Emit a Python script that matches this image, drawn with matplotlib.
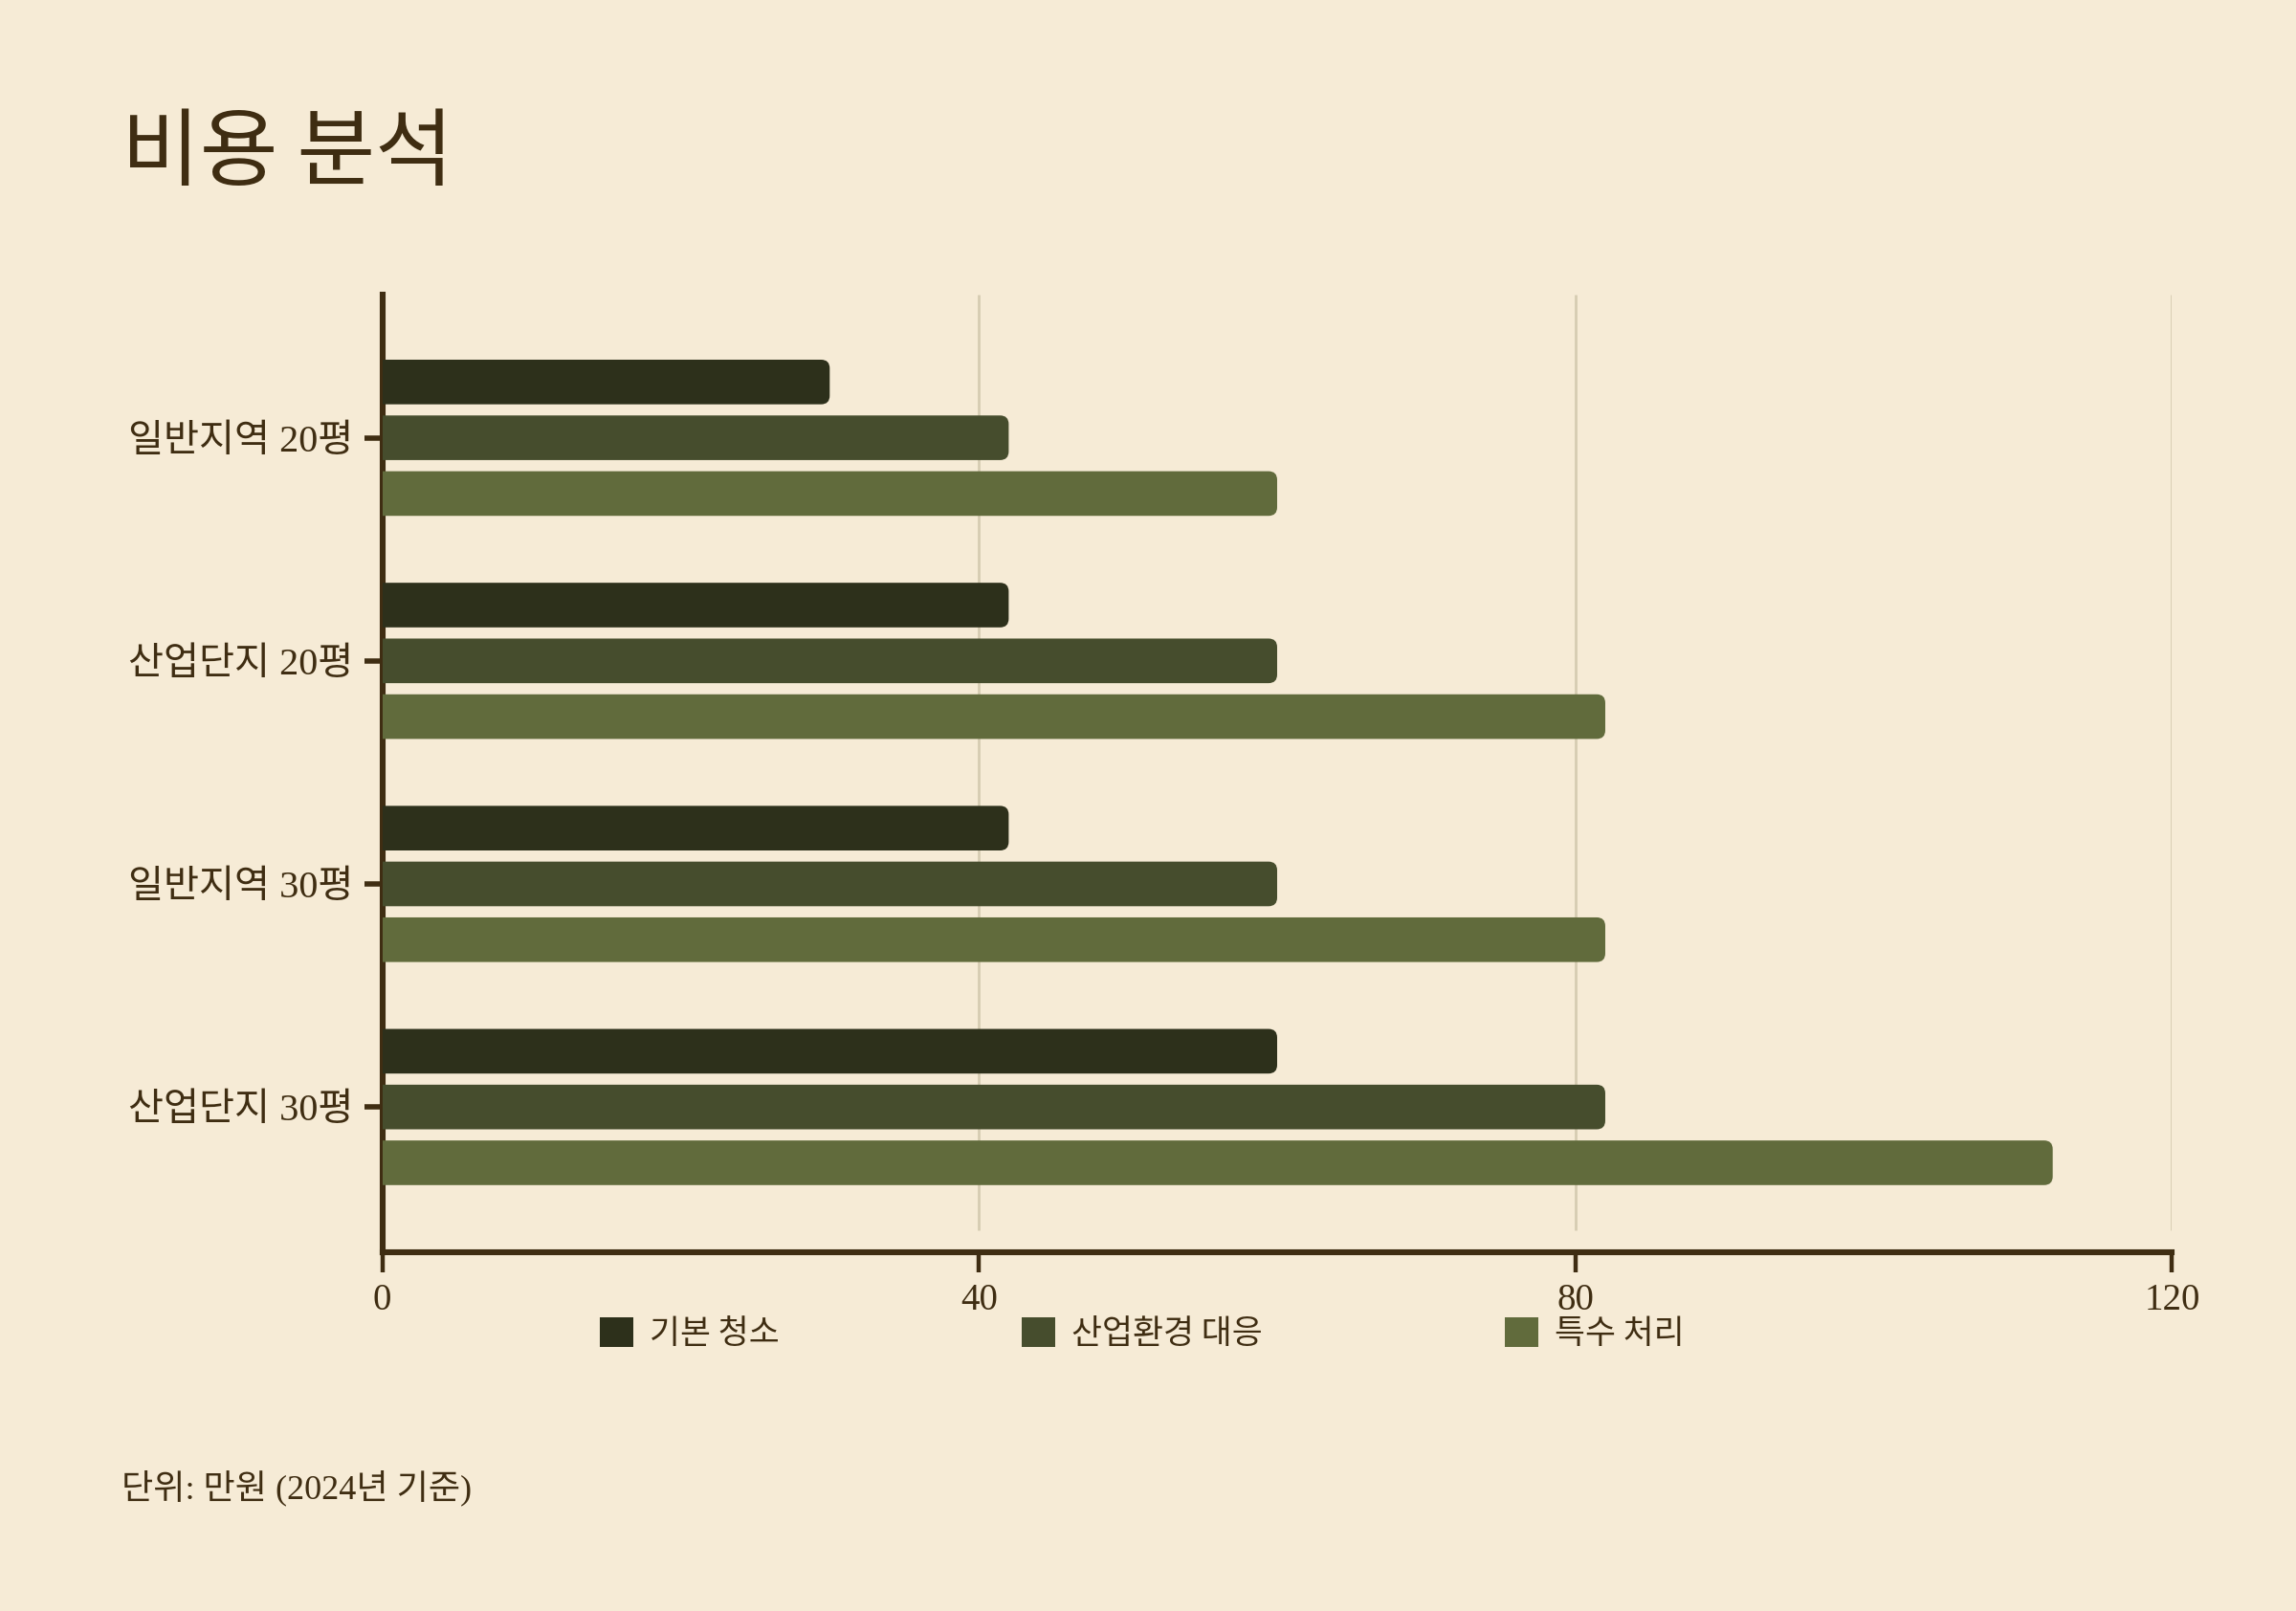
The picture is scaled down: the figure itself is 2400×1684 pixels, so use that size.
import numpy as np
import matplotlib
matplotlib.use('Agg')
from matplotlib import pyplot as plt
from matplotlib.patches import FancyBboxPatch, Patch

# 데이터
categories = ['일반지역 20평', '산업단지 20평', '일반지역 30평', '산업단지 30평']
series_names = ['기본 청소', '산업환경 대응', '특수 처리']
basic = [30, 42, 42, 60]
industrial = [42, 60, 60, 82]
special = [60, 82, 82, 112]
x_ticks = [0, 40, 80, 120]

colors = ['#2d301b', '#464d2d', '#616b3c']
bg = '#f6ebd6'
ink = '#3f2d12'
grid_c = '#d6ccb2'
mixed = ['Liberation Serif', 'Noto Sans CJK KR']

plt.rcParams['font.family'] = ['Noto Sans CJK KR', 'DejaVu Sans']

W, H, DPI = 12, 8.42, 200
fig = plt.figure(figsize=(W, H), dpi=DPI, facecolor=bg)
ax_pos = [0.1665, 0.2227, 0.7795, 0.5946]
ax = fig.add_axes(ax_pos, facecolor=bg)

xlim = (0, 120)
ylim = (3.651, -0.643)
ax.set_xlim(*xlim)
ax.set_ylim(*ylim)

# 둥근 모서리 크기 (픽셀 -> 데이터 단위)
px_x = W * DPI * ax_pos[2] / (xlim[1] - xlim[0])
px_y = H * DPI * ax_pos[3] / abs(ylim[0] - ylim[1])
r_px = 9
rx = r_px / px_x
aspect = (r_px / px_y) / rx

y = np.arange(len(categories))
offsets = [-0.25, 0, 0.25]
bar_h = 0.2
for vals, off, c in zip([basic, industrial, special], offsets, colors):
    # 왼쪽 둥근 끝은 축 밖으로 빼서 잘리게 함 -> 오른쪽 끝만 둥글게
    for yi, v in zip(y + off, vals):
        p = FancyBboxPatch((-2 * rx, yi - bar_h / 2), v + 2 * rx, bar_h,
                           boxstyle=f'round,pad=0,rounding_size={rx}',
                           mutation_aspect=aspect, fc=c, ec='none', zorder=3)
        ax.add_patch(p)

# 세로 격자선 (아래 축선 위에서 끊김)
ax.vlines(x_ticks[1:], ylim[1], 3.553, colors=grid_c, lw=1.0, zorder=1)

for s in ['top', 'right']:
    ax.spines[s].set_visible(False)
for s in ['left', 'bottom']:
    ax.spines[s].set_color(ink)
    ax.spines[s].set_linewidth(2.2)

ax.set_yticks(y)
ax.set_yticklabels(categories, family=mixed, fontsize=14.5, color=ink)
ax.set_xticks(x_ticks)
ax.set_xticklabels([str(t) for t in x_ticks], family=mixed, fontsize=14, color=ink)
ax.tick_params(axis='y', length=7, width=2, color=ink, pad=4)
ax.tick_params(axis='x', length=7.5, width=1.6, color=ink, pad=4)

# 제목
fig.text(0.053, 0.889, '비용 분석', fontsize=32, color=ink, va='baseline', ha='left')

# 범례
handles = [Patch(facecolor=c, edgecolor='none') for c in colors]
leg = fig.legend(handles, series_names, loc='center', bbox_to_anchor=(0.4975, 0.172),
                 ncol=3, frameon=False, fontsize=12.5, handlelength=1.0, handleheight=1.0,
                 handletextpad=0.5, columnspacing=7.3)
for t in leg.get_texts():
    t.set_color(ink)

# 주석
fig.text(0.053, 0.0766, '단위: 만원 (2024년 기준)', family=mixed, fontsize=13,
         color=ink, va='center', ha='left')

fig.savefig('out.png', dpi=DPI, facecolor=bg)
